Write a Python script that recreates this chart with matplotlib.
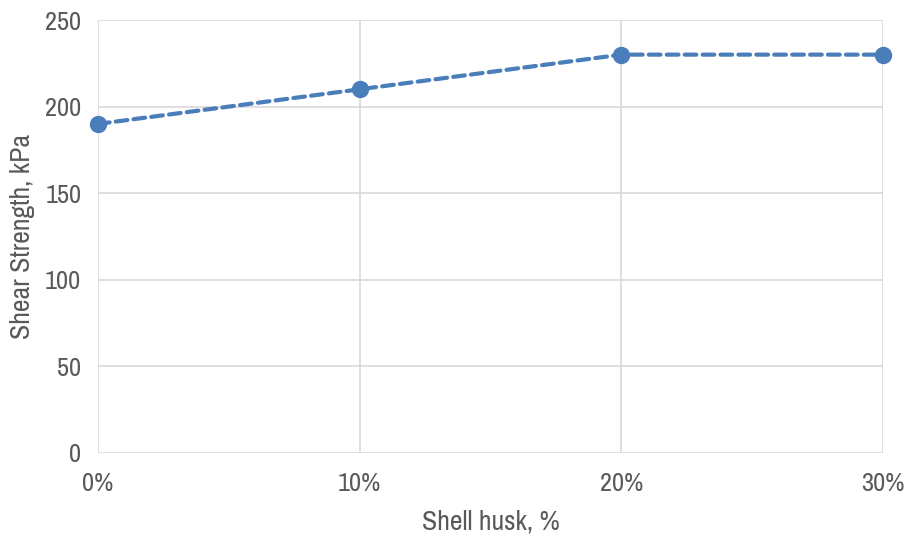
import matplotlib
matplotlib.use("Agg")
import matplotlib.pyplot as plt
from matplotlib import font_manager as fm
from matplotlib.ticker import FuncFormatter

fonts = fm.fontManager.ttflist
narrow = [f.name for f in fonts if ("Narrow" in f.name or "Condensed" in f.name)]
cond_dejavu = [f for f in fonts if f.name == "DejaVu Sans" and str(f.stretch) in ("condensed", "semi-condensed")]
stretch = "normal"
if narrow:
    fam = sorted(narrow)[0]
elif cond_dejavu:
    fam = "DejaVu Sans"
    stretch = "condensed"
else:
    fam = "Liberation Sans"
plt.rcParams['font.family'] = [fam, 'DejaVu Sans']
plt.rcParams['font.stretch'] = stretch

shell_husk = [0.0, 0.10, 0.20, 0.30]
shear_strength = [190, 210, 230, 230]
y_ticks = [0, 50, 100, 150, 200, 250]

text_col = "#595959"
grid_col = "#D9D9D9"
line_col = "#4A7EBB"

fig = plt.figure(figsize=(9.05, 5.34), dpi=100)
ax = fig.add_axes([98/905, 1-453/534, (883-98)/905, (453-20)/534])

ax.plot(shell_husk, shear_strength, color=line_col, lw=3.0, dashes=(2.8, 1.5),
        dash_capstyle='round', marker='o', ms=11.5, mfc=line_col, mec=line_col, zorder=3,
        clip_on=False)

ax.set_xlim(0, 0.30)
ax.set_ylim(0, 250)
ax.set_xticks(shell_husk)
ax.set_yticks(y_ticks)
ax.xaxis.set_major_formatter(FuncFormatter(lambda v, p: f"{round(v*100)}%"))
ax.grid(True, color=grid_col, lw=1.2)
ax.set_axisbelow(True)
for s in ax.spines.values():
    s.set_visible(False)
ax.tick_params(length=0, labelsize=19, colors=text_col, pad=12)
ax.tick_params(axis='x', pad=14)
ax.set_xlabel("Shell husk, %", fontsize=20, color=text_col, labelpad=10)
ax.set_ylabel("Shear Strength, kPa", fontsize=20, color=text_col, labelpad=7)

fig.savefig("out.png", dpi=100)
